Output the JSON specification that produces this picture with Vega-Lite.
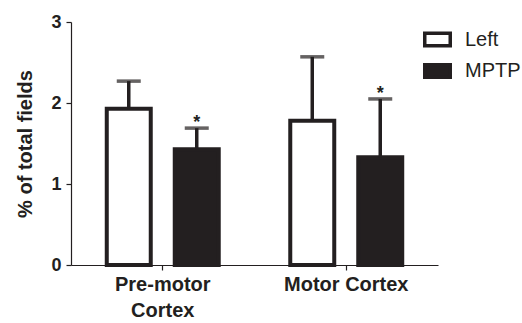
{
  "$schema": "https://vega.github.io/schema/vega-lite/v6.json",
  "width": 367,
  "height": 243,
  "autosize": {"type": "none"},
  "padding": {"left": 71, "top": 22, "right": 84, "bottom": 58},
  "background": "white",
  "config": {
    "view": {"stroke": null},
    "font": "Liberation Sans",
    "axis": {"domainColor": "#231f20", "tickColor": "#231f20", "labelColor": "#231f20", "titleColor": "#231f20", "grid": false}
  },
  "data": {
    "values": [
      {"region": "Pre-motor Cortex", "group": "Left", "value": 1.93, "upper": 2.27, "sig": ""},
      {"region": "Pre-motor Cortex", "group": "MPTP", "value": 1.43, "upper": 1.69, "sig": "*"},
      {"region": "Motor Cortex", "group": "Left", "value": 1.78, "upper": 2.57, "sig": ""},
      {"region": "Motor Cortex", "group": "MPTP", "value": 1.33, "upper": 2.05, "sig": "*"}
    ]
  },
  "encoding": {
    "x": {
      "field": "region", "type": "nominal", "sort": ["Pre-motor Cortex", "Motor Cortex"],
      "scale": {"paddingInner": 0, "paddingOuter": 0},
      "axis": {
        "title": null, "labelAngle": 0, "labelFontSize": 20, "labelFontWeight": "bold",
        "tickSize": 5, "tickWidth": 1.2, "domainWidth": 1.2, "labelPadding": 4, "labelLineHeight": 26,
        "labelExpr": "datum.value == 'Pre-motor Cortex' ? ['Pre-motor', 'Cortex'] : datum.label"
      }
    },
    "xOffset": {"field": "group", "type": "nominal", "scale": {"paddingInner": 0.353, "paddingOuter": 0.526}}
  },
  "layer": [
    {
      "mark": {"type": "bar", "stroke": "#231f20", "strokeWidth": 4},
      "encoding": {
        "y": {
          "field": "value", "type": "quantitative", "scale": {"domain": [0, 3]},
          "axis": {
            "title": "% of total fields", "values": [0, 1, 2, 3], "format": "d", "tickSize": 5, "tickWidth": 1.2, "domainWidth": 1.2,
            "labelFontSize": 18, "labelFontWeight": "bold", "labelPadding": 5,
            "titleFontSize": 20, "titleFontWeight": "bold", "titlePadding": 15
          }
        },
        "fill": {
          "field": "group", "type": "nominal",
          "scale": {"domain": ["Left", "MPTP"], "range": ["white", "#231f20"]},
          "legend": {
            "title": null, "orient": "none", "legendX": 352, "legendY": 3,
            "symbolType": "M-1,-0.5H1V0.5H-1Z", "symbolSize": 650,
            "symbolStrokeColor": "#231f20", "symbolStrokeWidth": 3.5,
            "labelFontSize": 20, "labelColor": "#231f20", "labelOffset": 13, "rowPadding": 3.5
          }
        }
      }
    },
    {
      "mark": {"type": "rule", "color": "#231f20", "strokeWidth": 3.5},
      "encoding": {"y": {"field": "value", "type": "quantitative"}, "y2": {"field": "upper"}}
    },
    {
      "mark": {"type": "tick", "color": "#231f20", "thickness": 3.5, "size": 24, "orient": "horizontal"},
      "encoding": {"y": {"field": "upper", "type": "quantitative"}}
    },
    {
      "mark": {"type": "text", "fontSize": 18, "fontWeight": "bold", "color": "#231f20", "baseline": "alphabetic", "dy": 0},
      "encoding": {"y": {"field": "upper", "type": "quantitative"}, "text": {"field": "sig"}}
    }
  ]
}
